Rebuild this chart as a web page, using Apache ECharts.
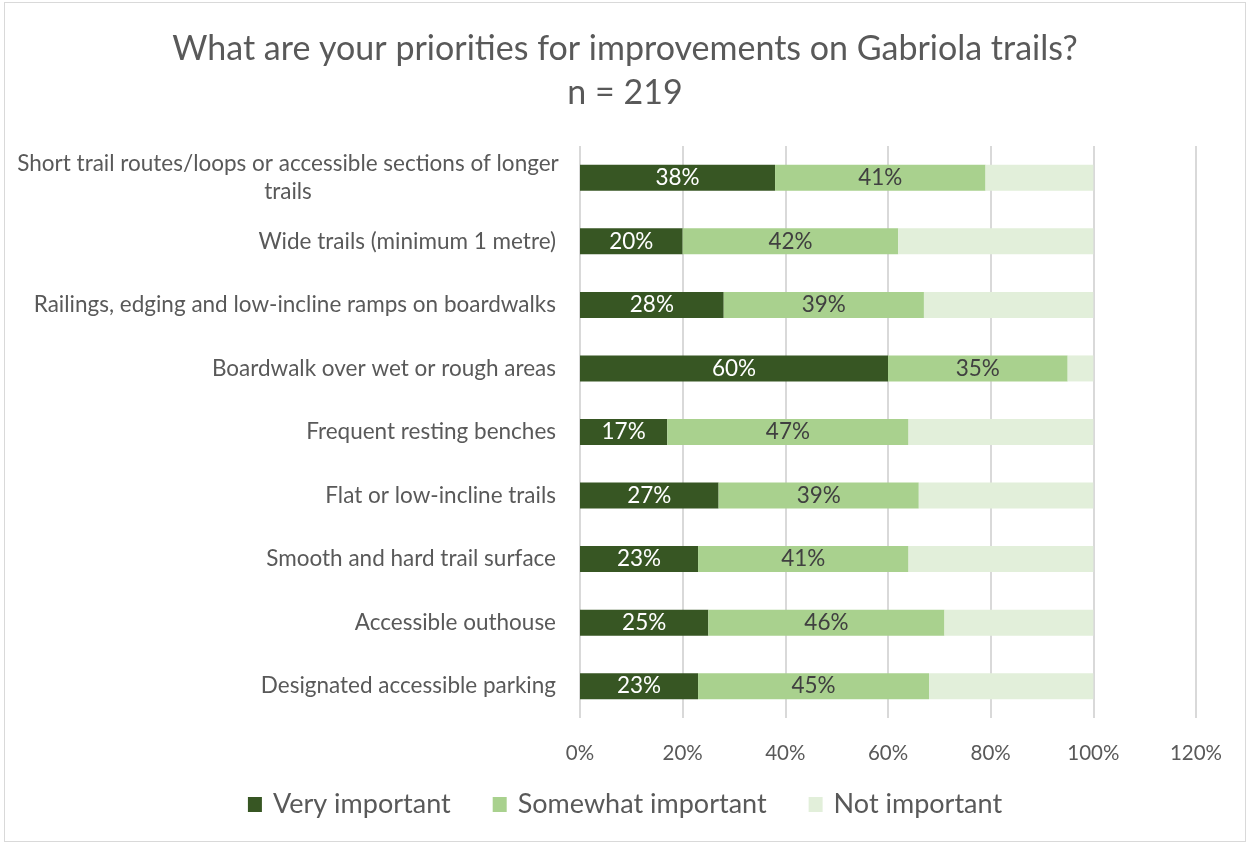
<!DOCTYPE html>
<html>
<head>
<meta charset="utf-8">
<script src="https://cdn.jsdelivr.net/npm/echarts@6/dist/echarts.min.js"></script>
<style>
  html, body { margin: 0; padding: 0; background: #fff; }
  #frame { position: absolute; left: 4px; top: 2px; width: 1242px; height: 840px; border: 1px solid #d9d9d9; box-sizing: border-box; }
  #chart { position: absolute; left: 0; top: 0; width: 1250px; height: 846px; }
</style>
</head>
<body>
<div id="frame"></div>
<div id="chart"></div>
<script>
// Survey categories, listed top to bottom
const categories = [
  'Short trail routes/loops or accessible sections of longer trails',
  'Wide trails (minimum 1 metre)',
  'Railings, edging and low-incline ramps on boardwalks',
  'Boardwalk over wet or rough areas',
  'Frequent resting benches',
  'Flat or low-incline trails',
  'Smooth and hard trail surface',
  'Accessible outhouse',
  'Designated accessible parking'
];
// Percent of respondents per rating
const veryImportant     = [38, 20, 28, 60, 17, 27, 23, 25, 23];
const somewhatImportant = [41, 42, 39, 35, 47, 39, 41, 46, 45];
const notImportant      = [21, 38, 33, 5, 36, 34, 36, 29, 32];
const seriesNames = ['Very important', 'Somewhat important', 'Not important'];
const xTicks = [0, 20, 40, 60, 80, 100, 120];

const FONT = 'Lato, "Open Sans", sans-serif';
const colors = ['#375623', '#A9D18E', '#E2EFDA'];

// y category axis runs bottom-up, so reverse for top-to-bottom order
const cats = categories.slice().reverse();
const rev = a => a.slice().reverse();

const chart = echarts.init(document.getElementById('chart'), null, { renderer: 'canvas' });

function barSeries(name, data, color, labelColor, showLabel) {
  return {
    name: name,
    type: 'bar',
    stack: 'total',
    barWidth: 26,
    data: data,
    itemStyle: { color: color },
    label: {
      show: showLabel,
      position: 'inside',
      formatter: p => p.value + '%',
      color: labelColor,
      fontFamily: FONT,
      fontSize: 22.5
    },
    emphasis: { disabled: true }
  };
}

chart.setOption({
  animation: false,
  textStyle: { fontFamily: FONT },
  title: {
    text: 'What are your priorities for improvements on Gabriola trails?\nn = 219',
    left: 'center',
    top: 22,
    textStyle: { color: '#595959', fontSize: 34, fontWeight: 'normal', fontFamily: FONT, lineHeight: 44 }
  },
  legend: {
    bottom: 23,
    left: 'center',
    itemWidth: 14,
    itemHeight: 15,
    itemGap: 42,
    icon: 'rect',
    textStyle: { color: '#595959', fontSize: 27, fontFamily: FONT, padding: [0, 0, 0, 6] },
    data: seriesNames
  },
  grid: { left: 580, right: 54, top: 146, bottom: 128, containLabel: false },
  xAxis: {
    type: 'value',
    min: xTicks[0],
    max: xTicks[xTicks.length - 1],
    interval: 20,
    axisLine: { show: false },
    axisTick: { show: false },
    splitLine: { show: true, lineStyle: { color: '#d9d9d9', width: 2 } },
    axisLabel: {
      formatter: v => v + '%',
      color: '#595959',
      fontSize: 20.5,
      fontFamily: FONT,
      margin: 25
    }
  },
  yAxis: {
    type: 'category',
    data: cats,
    axisLine: { show: false },
    axisTick: { show: false },
    axisLabel: {
      color: '#595959',
      fontSize: 22.5,
      fontFamily: FONT,
      margin: 24,
      lineHeight: 28,
      formatter: v => {
        if (v.length > 55) {
          const cut = v.lastIndexOf(' ', 57);
          return '{c|' + v.slice(0, cut) + '}\n{c|' + v.slice(cut + 1) + '}';
        }
        return v;
      },
      rich: {
        c: { width: 536, align: 'center', color: '#595959', fontSize: 22.5, fontFamily: FONT, lineHeight: 28 }
      }
    }
  },
  series: [
    barSeries(seriesNames[0], rev(veryImportant), colors[0], '#ffffff', true),
    barSeries(seriesNames[1], rev(somewhatImportant), colors[1], '#404040', true),
    barSeries(seriesNames[2], rev(notImportant), colors[2], '#404040', false)
  ]
});
</script>
</body>
</html>
